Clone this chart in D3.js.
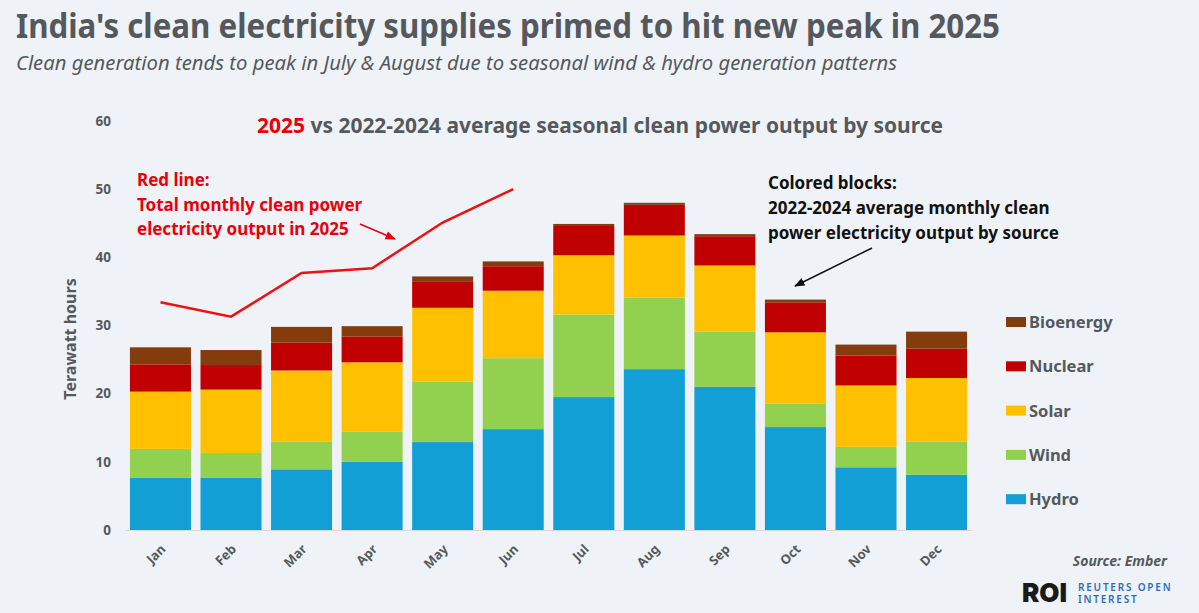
<!DOCTYPE html>
<html>
<head>
<meta charset="utf-8">
<script src="https://cdn.jsdelivr.net/npm/d3@7"></script>
<style>
  body { margin: 0; background: #eff3f8; }
  svg { display: block; font-family: "Noto Sans", "Open Sans", sans-serif; }
</style>
</head>
<body>
<div id="chart"></div>
<script>
// 2022-2024 average monthly clean output by source, TWh
var months = ["Jan", "Feb", "Mar", "Apr", "May", "Jun", "Jul", "Aug", "Sep", "Oct", "Nov", "Dec"];
var hydro = [7.7, 7.7, 8.9, 10.0, 12.9, 14.8, 19.5, 23.6, 21.0, 15.1, 9.2, 8.1];
var wind = [4.2, 3.6, 4.1, 4.4, 8.9, 10.4, 12.1, 10.5, 8.1, 3.4, 3.0, 4.9];
var solar = [8.4, 9.3, 10.4, 10.2, 10.8, 9.9, 8.7, 9.1, 9.7, 10.5, 9.0, 9.3];
var nuclear = [4.0, 3.6, 4.1, 3.8, 3.8, 3.6, 4.3, 4.5, 4.3, 4.4, 4.4, 4.3];
var bioenergy = [2.5, 2.2, 2.3, 1.5, 0.8, 0.7, 0.3, 0.3, 0.3, 0.4, 1.6, 2.5];
// 2025 monthly totals (Jan-Jun)
var total2025 = [33.4, 31.3, 37.7, 38.4, 45.1, 50.0];
var yTicks = [0, 10, 20, 30, 40, 50, 60];

var sources = ["Hydro", "Wind", "Solar", "Nuclear", "Bioenergy"];
var colors = {
    "Hydro": "#119fd6",
    "Wind": "#92d050",
    "Solar": "#ffc000",
    "Nuclear": "#c00000",
    "Bioenergy": "#843c0c"
};

var table = months.map(function (m, i) {
    return { month: m, Hydro: hydro[i], Wind: wind[i], Solar: solar[i], Nuclear: nuclear[i], Bioenergy: bioenergy[i] };
});

var width = 1199, height = 613;
var grey = "#55595d";

var svg = d3.select("#chart").append("svg")
    .attr("width", width)
    .attr("height", height);

svg.append("rect").attr("width", width).attr("height", height).attr("fill", "#eff3f8");

// titles
svg.append("text")
    .attr("x", 16).attr("y", 38)
    .attr("font-size", 34).attr("font-weight", 700)
    .attr("fill", grey)
    .attr("textLength", 984).attr("lengthAdjust", "spacingAndGlyphs")
    .text("India's clean electricity supplies primed to hit new peak in 2025");

svg.append("text")
    .attr("x", 16).attr("y", 70)
    .attr("font-size", 19).attr("font-style", "italic")
    .attr("fill", grey)
    .attr("textLength", 881).attr("lengthAdjust", "spacingAndGlyphs")
    .text("Clean generation tends to peak in July & August due to seasonal wind & hydro generation patterns");

var sub = svg.append("text")
    .attr("x", 257).attr("y", 133)
    .attr("font-size", 22).attr("font-weight", 700)
    .attr("fill", grey)
    .attr("textLength", 686).attr("lengthAdjust", "spacingAndGlyphs");
sub.append("tspan").attr("fill", "#e8000b").text("2025");
sub.append("tspan").text(" vs 2022-2024 average seasonal clean power output by source");

// scales
var x = d3.scaleBand()
    .domain(months)
    .range([125, 972])
    .paddingInner(0.135)
    .paddingOuter(0.07);

var y = d3.scaleLinear()
    .domain([0, 60])
    .range([530, 121]);

var stacked = d3.stack().keys(sources)(table);

// bars
svg.append("g").selectAll("g")
    .data(stacked)
    .enter()
    .append("g")
    .attr("fill", function (d) { return colors[d.key]; })
    .selectAll("rect")
    .data(function (d) { return d; })
    .enter()
    .append("rect")
    .attr("x", function (d) { return x(d.data.month); })
    .attr("width", x.bandwidth())
    .attr("y", function (d) { return y(d[1]); })
    .attr("height", function (d) { return y(d[0]) - y(d[1]); });

// baseline
svg.append("line")
    .attr("x1", 125).attr("x2", 972)
    .attr("y1", y(0) + 0.5).attr("y2", y(0) + 0.5)
    .attr("stroke", "#d9d9d9");

// y axis, labels only
var yAxis = d3.axisLeft(y).tickValues(yTicks).tickSize(0).tickPadding(0);
var gy = svg.append("g")
    .attr("transform", "translate(111,0)")
    .call(yAxis);
gy.select(".domain").remove();
gy.selectAll("text")
    .attr("font-size", 13.5).attr("font-weight", 700)
    .attr("fill", grey)
    .attr("font-family", "Noto Sans, sans-serif");

svg.append("text")
    .attr("transform", "translate(76,339) rotate(-90)")
    .attr("text-anchor", "middle")
    .attr("font-size", 16).attr("font-weight", 700)
    .attr("fill", grey)
    .text("Terawatt hours");

// x axis labels
var xAxis = d3.axisBottom(x).tickSize(0).tickPadding(0);
var gx = svg.append("g")
    .attr("transform", "translate(0," + y(0) + ")")
    .call(xAxis);
gx.select(".domain").remove();
gx.selectAll("text")
    .attr("font-size", 13).attr("font-weight", 700)
    .attr("fill", grey)
    .attr("font-family", "Noto Sans, sans-serif")
    .attr("text-anchor", "end")
    .attr("dy", 0)
    .attr("transform", "translate(6,20) rotate(-45)");

// 2025 line
var line = d3.line()
    .x(function (d, i) { return x(months[i]) + x.bandwidth() / 2; })
    .y(function (d) { return y(d); });

svg.append("path")
    .datum(total2025)
    .attr("d", line)
    .attr("fill", "none")
    .attr("stroke", "#ee1111")
    .attr("stroke-width", 2.5);

// annotations
var red = "#e8000b";
var redNote = ["Red line:", "Total monthly clean power", "electricity output in 2025"];
svg.append("g").selectAll("text")
    .data(redNote)
    .enter()
    .append("text")
    .attr("x", 137)
    .attr("y", function (d, i) { return 186 + i * 24.5; })
    .attr("font-size", 17).attr("font-weight", 700)
    .attr("fill", red)
    .text(function (d) { return d; });

var blackNote = ["Colored blocks:", "2022-2024 average monthly clean", "power electricity output by source"];
svg.append("g").selectAll("text")
    .data(blackNote)
    .enter()
    .append("text")
    .attr("x", 768)
    .attr("y", function (d, i) { return 189 + i * 25; })
    .attr("font-size", 17).attr("font-weight", 700)
    .attr("fill", "#111")
    .text(function (d) { return d; });

var defs = svg.append("defs");
[["redHead", red], ["blackHead", "#111"]].forEach(function (m) {
    defs.append("marker")
        .attr("id", m[0])
        .attr("viewBox", "0 0 10 10")
        .attr("refX", 9).attr("refY", 5)
        .attr("markerWidth", 7).attr("markerHeight", 7)
        .attr("orient", "auto")
        .append("path")
        .attr("d", "M0,1 L10,5 L0,9 Z")
        .attr("fill", m[1]);
});

svg.append("line")
    .attr("x1", 360).attr("y1", 224).attr("x2", 395).attr("y2", 239)
    .attr("stroke", red).attr("stroke-width", 1.5)
    .attr("marker-end", "url(#redHead)");

svg.append("line")
    .attr("x1", 872).attr("y1", 248).attr("x2", 795).attr("y2", 286)
    .attr("stroke", "#111").attr("stroke-width", 1.5)
    .attr("marker-end", "url(#blackHead)");

// legend
var legendOrder = ["Bioenergy", "Nuclear", "Solar", "Wind", "Hydro"];
var legend = svg.append("g").selectAll("g")
    .data(legendOrder)
    .enter()
    .append("g")
    .attr("transform", function (d, i) { return "translate(1006," + (322 + i * 44.3) + ")"; });
legend.append("rect")
    .attr("x", 0).attr("y", -5)
    .attr("width", 20).attr("height", 10)
    .attr("fill", function (d) { return colors[d]; });
legend.append("text")
    .attr("x", 23).attr("y", 6)
    .attr("font-size", 16.5).attr("font-weight", 700)
    .attr("fill", grey)
    .text(function (d) { return d; });

// source + logo
svg.append("text")
    .attr("x", 1167).attr("y", 566)
    .attr("text-anchor", "end")
    .attr("font-size", 14).attr("font-weight", 700).attr("font-style", "italic")
    .attr("fill", grey)
    .text("Source: Ember");

svg.append("text")
    .attr("x", 1022).attr("y", 602)
    .attr("font-size", 26).attr("font-weight", 900)
    .attr("fill", "#1a1a1a")
    .attr("font-family", "Inter, sans-serif")
    .text("ROI");

svg.append("text")
    .attr("x", 1078).attr("y", 591)
    .attr("font-size", 10).attr("font-weight", 600)
    .attr("letter-spacing", 1.8)
    .attr("fill", "#2a6ebb")
    .text("REUTERS OPEN");
svg.append("text")
    .attr("x", 1078).attr("y", 603)
    .attr("font-size", 10).attr("font-weight", 600)
    .attr("letter-spacing", 1.8)
    .attr("fill", "#2a6ebb")
    .text("INTEREST");
</script>
</body>
</html>
